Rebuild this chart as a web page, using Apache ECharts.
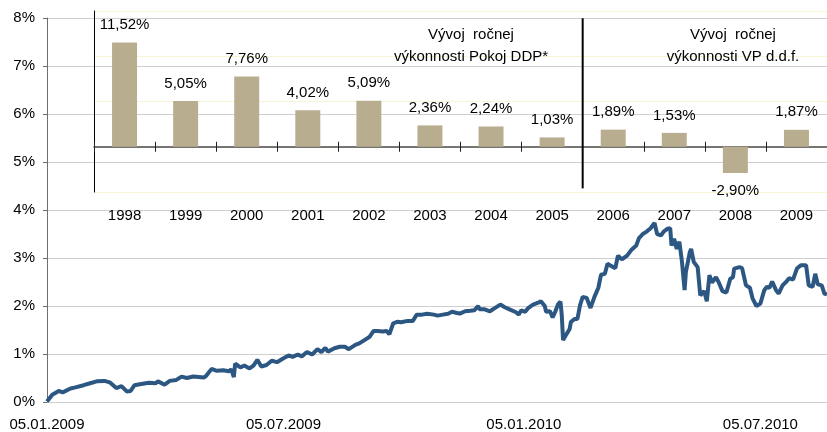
<!DOCTYPE html>
<html>
<head>
<meta charset="utf-8">
<script src="https://cdn.jsdelivr.net/npm/echarts@6/dist/echarts.min.js"></script>
<style>
  html, body { margin: 0; padding: 0; background: #fff; }
  #chart { width: 827px; height: 432px; }
</style>
</head>
<body>
<div id="chart"></div>
<script>
// cumulative performance since 05.01.2009 (days after start, value in %)
const startDate = [2009, 0, 5];
const endDay = 597;
const dayOffsets = [
  0, 4, 9, 12, 18, 21, 28, 33, 38, 44,
  48, 53, 57, 61, 64, 67, 71, 78, 83, 85,
  90, 94, 99, 103, 107, 112, 120, 122, 126, 130,
  135, 139, 141, 143, 144, 148, 151, 155, 158, 161,
  164, 168, 172, 176, 181, 185, 188, 192, 195, 199,
  203, 207, 210, 213, 215, 220, 224, 228, 231, 236,
  239, 243, 247, 250, 253, 257, 260, 262, 265, 268,
  271, 276, 280, 283, 287, 291, 296, 299, 303, 307,
  310, 313, 316, 320, 324, 327, 330, 331, 335, 339,
  343, 347, 350, 354, 359, 361, 363, 366, 368, 372,
  376, 378, 381, 382, 385, 387, 389, 391, 393, 394,
  395, 398, 400, 401, 404, 406, 408, 410, 413, 416,
  419, 422, 424, 427, 429, 432, 435, 437, 440, 444,
  447, 451, 453, 456, 459, 462, 463, 465, 467, 470,
  472, 475, 477, 478, 480, 482, 484, 486, 488, 489,
  492, 493, 495, 498, 500, 503, 505, 507, 509, 512,
  514, 517, 520, 523, 525, 526, 530, 532, 535, 538,
  540, 543, 546, 549, 551, 553, 555, 558, 560, 563,
  566, 568, 571, 574, 577, 581, 583, 586, 588, 590,
  593, 595, 597
];
const perfValues = [
  0.01, 0.15, 0.23, 0.20, 0.28, 0.30, 0.35, 0.39, 0.43, 0.44,
  0.41, 0.29, 0.33, 0.22, 0.23, 0.35, 0.37, 0.40, 0.39, 0.43,
  0.36, 0.44, 0.46, 0.53, 0.50, 0.53, 0.51, 0.55, 0.69, 0.65,
  0.66, 0.64, 0.68, 0.52, 0.80, 0.72, 0.76, 0.70, 0.76, 0.88,
  0.74, 0.77, 0.86, 0.83, 0.91, 0.97, 0.94, 0.99, 0.95, 1.04,
  0.99, 1.10, 1.04, 1.13, 1.05, 1.12, 1.15, 1.15, 1.10, 1.19,
  1.22, 1.29, 1.36, 1.48, 1.48, 1.47, 1.48, 1.41, 1.64, 1.67,
  1.66, 1.69, 1.69, 1.82, 1.82, 1.84, 1.82, 1.80, 1.82, 1.84,
  1.88, 1.86, 1.84, 1.89, 1.90, 1.91, 2.00, 1.93, 1.93, 1.89,
  1.96, 2.03, 1.98, 1.93, 1.87, 1.82, 1.91, 1.88, 1.95, 2.03,
  2.07, 2.10, 2.00, 1.88, 1.89, 1.76, 1.88, 2.03, 2.09, 1.81,
  1.29, 1.43, 1.52, 1.67, 1.73, 1.73, 2.02, 2.19, 2.17, 1.96,
  2.19, 2.38, 2.65, 2.67, 2.88, 2.83, 2.79, 3.05, 2.97, 3.05,
  3.16, 3.26, 3.41, 3.50, 3.55, 3.62, 3.59, 3.73, 3.50, 3.47,
  3.55, 3.61, 3.62, 3.26, 3.40, 3.19, 3.34, 2.92, 2.33, 2.71,
  3.12, 3.19, 2.92, 2.81, 2.22, 2.31, 2.10, 2.64, 2.49, 2.60,
  2.50, 2.31, 2.28, 2.57, 2.60, 2.78, 2.81, 2.79, 2.43, 2.38,
  2.16, 2.00, 2.05, 2.33, 2.40, 2.38, 2.51, 2.33, 2.26, 2.43,
  2.51, 2.58, 2.55, 2.78, 2.85, 2.85, 2.43, 2.40, 2.67, 2.45,
  2.43, 2.26, 2.24
];
const dateLabels = ['2009-01-05', '2009-07-05', '2010-01-05', '2010-07-05'];

// inset: yearly performance
const years = ['1998', '1999', '2000', '2001', '2002', '2003', '2004', '2005', '2006', '2007', '2008', '2009'];
const yearlyValues = [11.52, 5.05, 7.76, 4.02, 5.09, 2.36, 2.24, 1.03, 1.89, 1.53, -2.90, 1.87];
const splitYear = '2006';
const titleLeft = 'Vývoj  ročnej\nvýkonnosti Pokoj DDP*';
const titleRight = 'Vývoj  ročnej\nvýkonnosti VP d.d.f.';

const DAY = 86400000;
const t0 = Date.UTC(startDate[0], startDate[1], startDate[2]);
const lineData = dayOffsets.map((d, i) => [t0 + d * DAY, perfValues[i]]);
const labelTimes = dateLabels.map(s => Date.parse(s + 'T00:00:00Z'));
const splitIdx = years.indexOf(splitYear);
const barData = yearlyValues.map(v => v < 0 ? { value: v, label: { position: 'bottom' } } : v);

// inset grid: -5..15 over 181px, so zero sits 45.25px above the bottom
const insetHeight = 181;
const zeroOffset = -insetHeight * 5 / 20;

const font = 'Liberation Sans, Arial, sans-serif';
const fs = 15;
const fmtComma = v => v.toFixed(2).replace('.', ',') + '%';
const pad = n => (n < 10 ? '0' : '') + n;

const chart = echarts.init(document.getElementById('chart'));
chart.setOption({
  animation: false,
  textStyle: { fontFamily: font },
  grid: [
    { left: 47, right: 0, top: 18, bottom: 28 },
    { left: 94, top: 11, width: 736.2, height: insetHeight }
  ],
  xAxis: [
    {
      type: 'value',
      gridIndex: 0,
      position: 'bottom',
      min: t0,
      max: t0 + endDay * DAY,
      axisLine: { show: false },
      axisTick: { show: false },
      splitLine: { show: false },
      axisLabel: {
        customValues: labelTimes,
        margin: 15,
        fontSize: fs,
        color: '#000',
        fontFamily: font,
        formatter: v => {
          const d = new Date(v);
          return pad(d.getUTCDate()) + '.' + pad(d.getUTCMonth() + 1) + '.' + d.getUTCFullYear();
        }
      }
    },
    {
      // year labels under the inset
      type: 'category',
      gridIndex: 1,
      position: 'bottom',
      data: years,
      axisLine: { show: false, onZero: false },
      axisTick: { show: false },
      axisLabel: { margin: 16, fontSize: fs, color: '#000', fontFamily: font },
      splitLine: { show: false }
    },
    {
      type: 'value',
      gridIndex: 1,
      position: 'top',
      min: 0,
      max: years.length,
      show: false
    },
    {
      // zero line of the inset
      type: 'category',
      gridIndex: 1,
      position: 'bottom',
      offset: zeroOffset,
      data: years,
      axisLine: { show: true, onZero: false, lineStyle: { color: '#4a4a4a', width: 1.5 } },
      axisTick: { show: false },
      axisLabel: { show: false },
      splitLine: { show: false }
    },
    {
      // ticks crossing the zero line
      type: 'category',
      gridIndex: 1,
      position: 'bottom',
      offset: zeroOffset - 5,
      data: years,
      axisLine: { show: false, onZero: false },
      axisTick: { show: true, length: 10, lineStyle: { color: '#222', width: 1 } },
      axisLabel: { show: false },
      splitLine: { show: false }
    }
  ],
  yAxis: [
    {
      type: 'value',
      gridIndex: 0,
      min: 0,
      max: 8,
      interval: 1,
      axisLine: { show: true, lineStyle: { color: '#6e6e6e', width: 1 } },
      axisTick: { show: true, length: 4, lineStyle: { color: '#6e6e6e' } },
      axisLabel: { formatter: '{value}%', fontSize: fs, color: '#000', margin: 12, fontFamily: font },
      splitLine: { lineStyle: { color: '#cfcfcf', width: 1 } }
    },
    {
      type: 'value',
      gridIndex: 1,
      min: -5,
      max: 15,
      interval: 5,
      axisLine: { show: true, onZero: false, lineStyle: { color: '#000', width: 1 } },
      axisTick: { show: false },
      axisLabel: { show: false },
      splitLine: { lineStyle: { color: '#f8f5d6', width: 1 } }
    }
  ],
  graphic: [
    {
      type: 'text', x: 471, y: 24, z: 10,
      style: { text: titleLeft, fontSize: fs, fontFamily: font, fill: '#000', align: 'center', verticalAlign: 'top', lineHeight: 22 }
    },
    {
      type: 'text', x: 733, y: 24, z: 10,
      style: { text: titleRight, fontSize: fs, fontFamily: font, fill: '#000', align: 'center', verticalAlign: 'top', lineHeight: 22 }
    }
  ],
  series: [
    {
      type: 'line',
      xAxisIndex: 0,
      yAxisIndex: 0,
      data: lineData,
      showSymbol: false,
      symbol: 'none',
      lineStyle: { color: '#2c5783', width: 4 },
      z: 3
    },
    {
      type: 'bar',
      xAxisIndex: 1,
      yAxisIndex: 1,
      data: barData,
      barWidth: 25,
      itemStyle: { color: '#b8ae8f' },
      label: {
        show: true,
        position: 'top',
        distance: 10,
        fontSize: fs,
        color: '#000',
        fontFamily: font,
        formatter: p => fmtComma(p.value)
      },
      z: 4
    },
    {
      // divider between the two funds
      type: 'line',
      xAxisIndex: 2,
      yAxisIndex: 1,
      data: [[splitIdx, 14.2], [splitIdx, -4.6]],
      symbol: 'none',
      lineStyle: { color: '#000', width: 2 },
      silent: true,
      z: 5
    }
  ]
});
</script>
</body>
</html>
